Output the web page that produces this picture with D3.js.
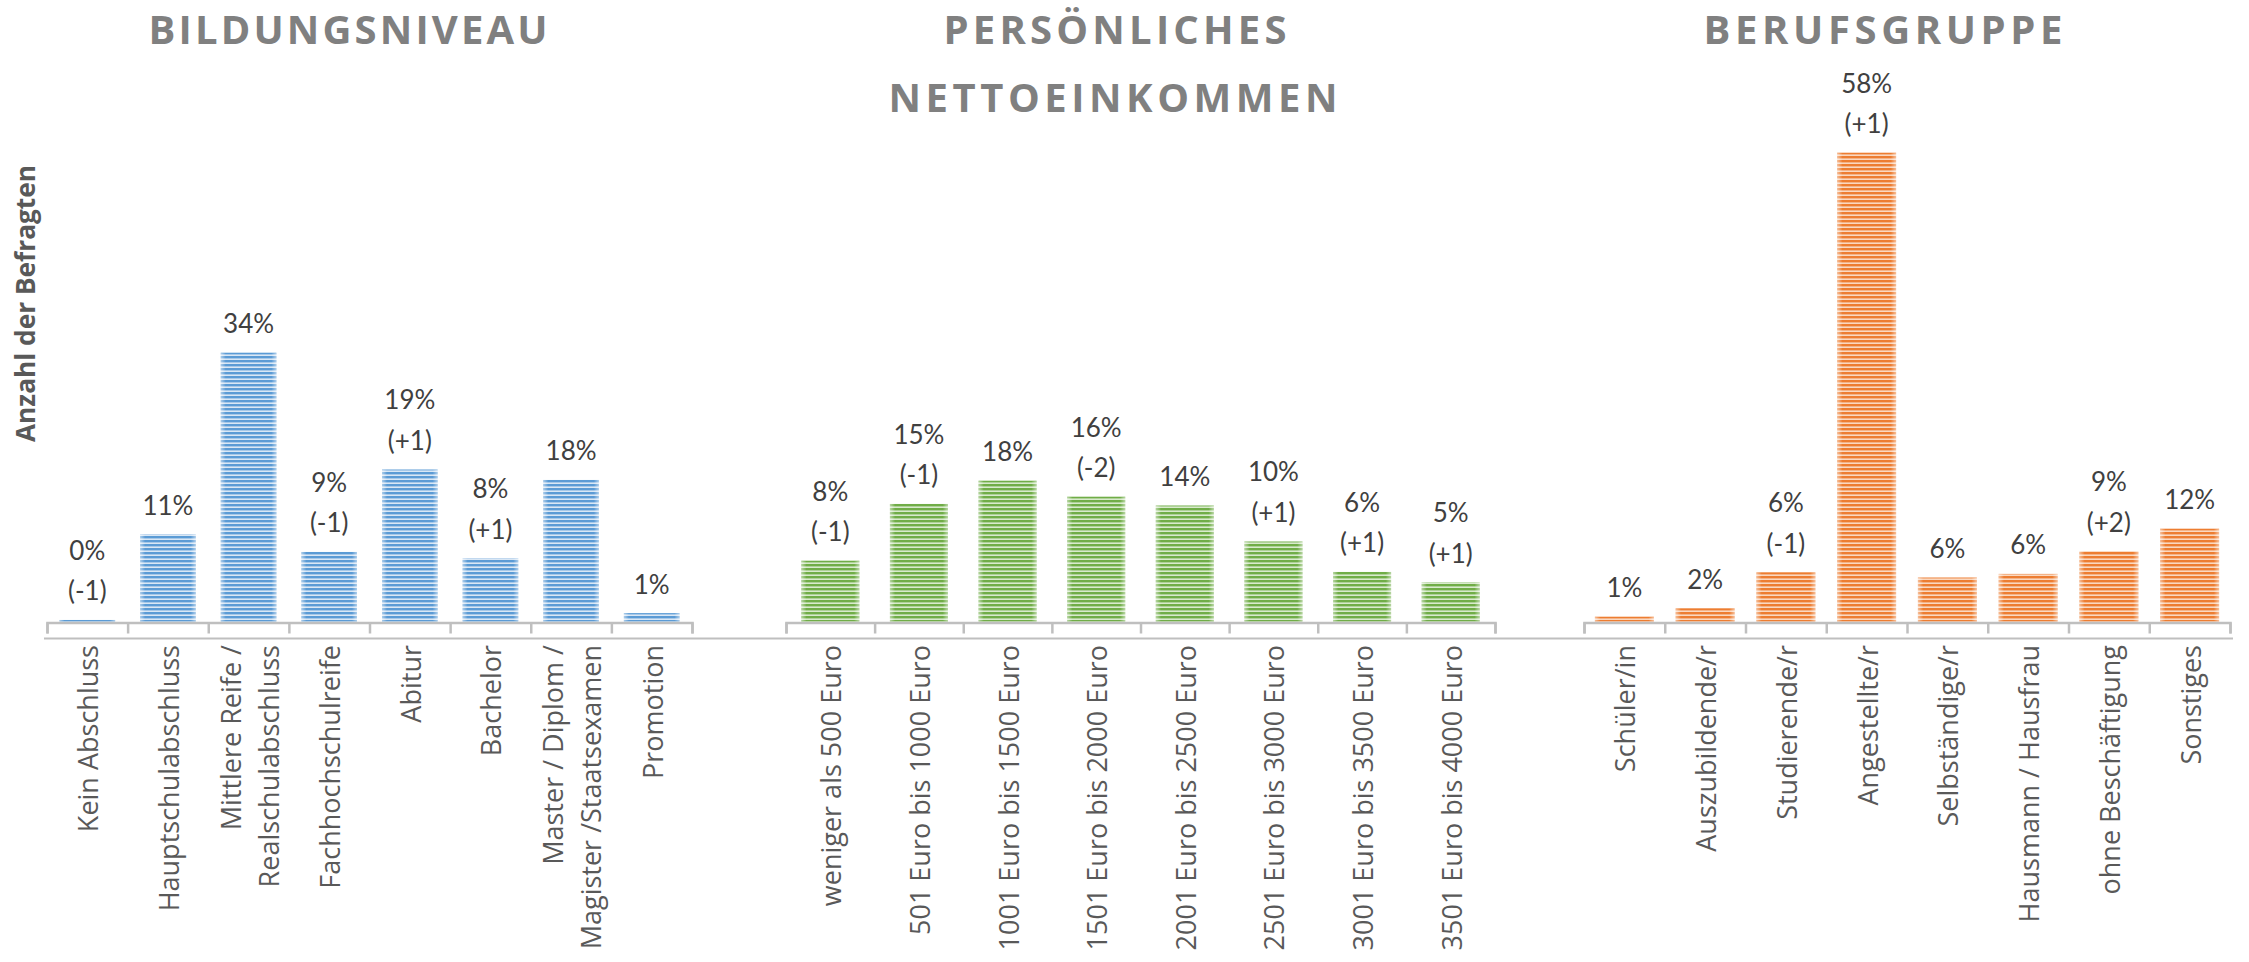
<!DOCTYPE html>
<html>
<head>
<meta charset="utf-8">
<script src="https://cdn.jsdelivr.net/npm/d3@7"></script>
<style>
  body { margin: 0; background: #fff; }
  svg { display: block; }
  .cat { font-family: "Open Sans", sans-serif; font-size: 27px; fill: #595959; }
  .lbl { font-family: Lato, "Open Sans", sans-serif; font-size: 26px; fill: #404040; }
  .title { font-family: "Open Sans", sans-serif; font-weight: 700; font-size: 40px; fill: #808080; }
  .ytitle { font-family: "Open Sans", sans-serif; font-weight: 700; font-size: 26px; fill: #595959; }
</style>
</head>
<body>
<svg id="chart" width="2249" height="962"></svg>
<script>
// ------------------------------------
// Data
// ------------------------------------
const eduCats = ["Kein Abschluss", "Hauptschulabschluss", "Mittlere Reife /\nRealschulabschluss",
  "Fachhochschulreife", "Abitur", "Bachelor", "Master / Diplom /\nMagister /Staatsexamen", "Promotion"];
const eduValues = [0.2, 10.9, 33.6, 8.7, 19.0, 7.9, 17.7, 1.05];
const eduLabels = ["0%", "11%", "34%", "9%", "19%", "8%", "18%", "1%"];
const eduChanges = ["(-1)", "", "", "(-1)", "(+1)", "(+1)", "", ""];

const incCats = ["weniger als 500 Euro", "501 Euro bis 1000 Euro", "1001 Euro bis 1500 Euro",
  "1501 Euro bis 2000 Euro", "2001 Euro bis 2500 Euro", "2501 Euro bis 3000 Euro",
  "3001 Euro bis 3500 Euro", "3501 Euro bis 4000 Euro"];
const incValues = [7.6, 14.7, 17.6, 15.6, 14.5, 10.0, 6.2, 4.9];
const incLabels = ["8%", "15%", "18%", "16%", "14%", "10%", "6%", "5%"];
const incChanges = ["(-1)", "(-1)", "", "(-2)", "", "(+1)", "(+1)", "(+1)"];

const jobCats = ["Schüler/in", "Auszubildende/r", "Studierende/r", "Angestellte/r",
  "Selbständige/r", "Hausmann / Hausfrau", "ohne Beschäftigung", "Sonstiges"];
const jobValues = [0.6, 1.65, 6.15, 58.6, 5.5, 5.95, 8.8, 11.6];
const jobLabels = ["1%", "2%", "6%", "58%", "6%", "6%", "9%", "12%"];
const jobChanges = ["", "", "(-1)", "(+1)", "", "", "(+2)", ""];

const panels = [
  { cats: eduCats, values: eduValues, labels: eduLabels, changes: eduChanges,
    x0: 47, x1: 692, pad: 0.31, dark: "#5b9bd5", light: "#d9e7f5", id: "edu",
    titles: [{ t: "BILDUNGSNIVEAU", x: 348, y: 44, w: 399 }] },
  { cats: incCats, values: incValues, labels: incLabels, changes: incChanges,
    x0: 786, x1: 1495, pad: 0.345, dark: "#70ad47", light: "#d8eacc", id: "inc",
    titles: [{ t: "PERSÖNLICHES", x: 1115, y: 44, w: 343 }, { t: "NETTOEINKOMMEN", x: 1113, y: 112, w: 449 }] },
  { cats: jobCats, values: jobValues, labels: jobLabels, changes: jobChanges,
    x0: 1584, x1: 2230, pad: 0.27, dark: "#ed7d31", light: "#fad8c0", id: "job",
    titles: [{ t: "BERUFSGRUPPE", x: 1883, y: 44, w: 359 }] }
];

const svg = d3.select("#chart");
const defs = svg.append("defs");

// shared value scale (percent -> pixels)
const y = d3.scaleLinear().domain([0, 60]).range([621.5, 141.5]);
const axisY = 622.5;

// soft light edges on bars
const edge = defs.append("linearGradient").attr("id", "edge")
  .attr("x1", 0).attr("x2", 1).attr("y1", 0).attr("y2", 0);
[[0, 0.5], [0.09, 0], [0.91, 0], [1, 0.5]].forEach(([o, a]) =>
  edge.append("stop").attr("offset", o).attr("stop-color", "#fff").attr("stop-opacity", a));

// y axis title
svg.append("text")
  .attr("class", "ytitle")
  .attr("transform", "translate(35,303.5) rotate(-90)")
  .attr("text-anchor", "middle")
  .attr("textLength", 277)
  .attr("lengthAdjust", "spacingAndGlyphs")
  .text("Anzahl der Befragten");

// long base line under all three charts
svg.append("line")
  .attr("x1", 44).attr("x2", 2233)
  .attr("y1", 638.5).attr("y2", 638.5)
  .attr("stroke", "#bfbfbf").attr("stroke-width", 2);

panels.forEach(p => {
  // stripe pattern
  const pat = defs.append("pattern")
    .attr("id", "stripe-" + p.id)
    .attr("patternUnits", "userSpaceOnUse")
    .attr("width", 8).attr("height", 4);
  pat.append("rect").attr("width", 8).attr("height", 4).attr("fill", p.light);
  pat.append("rect").attr("width", 8).attr("height", 2.4).attr("fill", p.dark);

  const x = d3.scaleBand()
    .domain(p.cats)
    .range([p.x0, p.x1])
    .paddingInner(p.pad)
    .paddingOuter(p.pad / 2);

  const g = svg.append("g");

  // bars
  g.selectAll(".bar")
    .data(p.values)
    .join("rect")
    .attr("class", "bar")
    .attr("x", (d, i) => x(p.cats[i]))
    .attr("width", x.bandwidth())
    .attr("y", d => y(d))
    .attr("height", d => y(0) - y(d))
    .attr("fill", `url(#stripe-${p.id})`);

  g.selectAll(".bar-edge")
    .data(p.values)
    .join("rect")
    .attr("class", "bar-edge")
    .attr("x", (d, i) => x(p.cats[i]))
    .attr("width", x.bandwidth())
    .attr("y", d => y(d))
    .attr("height", d => y(0) - y(d))
    .attr("fill", "url(#edge)");

  // bracket axis with ticks on category boundaries
  const idx = d3.scaleLinear().domain([0, p.cats.length]).range([p.x0, p.x1]);
  const ax = g.append("g")
    .attr("transform", `translate(0,${axisY})`)
    .call(d3.axisBottom(idx).tickValues(d3.range(p.cats.length + 1))
      .tickSize(11).tickFormat(""));
  ax.selectAll("path, line").attr("stroke", "#bfbfbf").attr("stroke-width", 2.5);

  // data labels
  p.values.forEach((v, i) => {
    const cx = x(p.cats[i]) + x.bandwidth() / 2;
    const lines = [p.labels[i], p.changes[i]].filter(s => s);
    const base = y(v) - 19.5;
    lines.forEach((s, j) => {
      g.append("text")
        .attr("class", "lbl")
        .attr("x", cx)
        .attr("y", base - (lines.length - 1 - j) * 40.7)
        .attr("text-anchor", "middle")
        .text(s);
    });
  });

  // category labels, rotated
  p.cats.forEach(c => {
    const cx = x(c) + x.bandwidth() / 2;
    const parts = c.split("\n");
    const t = g.append("text")
      .attr("class", "cat")
      .attr("transform", `translate(${cx},645) rotate(-90)`)
      .attr("text-anchor", "end");
    parts.forEach((s, j) => {
      t.append("tspan")
        .attr("x", 0)
        .attr("y", (j - (parts.length - 1) / 2) * 38 + 11)
        .text(s);
    });
  });

  // panel titles
  p.titles.forEach(tt => {
    svg.append("text")
      .attr("class", "title")
      .attr("x", tt.x).attr("y", tt.y)
      .attr("text-anchor", "middle")
      .attr("textLength", tt.w)
      .attr("lengthAdjust", "spacing")
      .text(tt.t);
  });
});
</script>
</body>
</html>
